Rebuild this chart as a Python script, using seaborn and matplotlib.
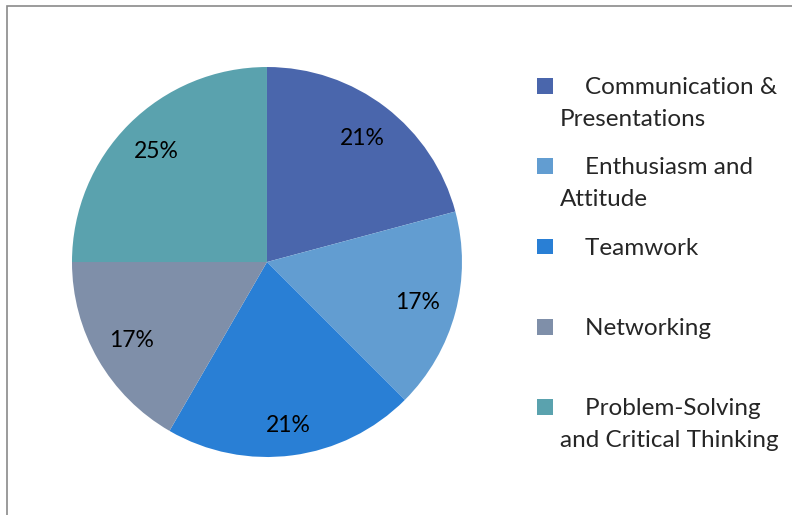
import matplotlib
matplotlib.use("Agg")
import matplotlib.pyplot as plt
import seaborn as sns
from matplotlib.patches import Patch, Rectangle
from matplotlib.legend_handler import HandlerPatch

# skills and counts (percent labels 21/17/21/17/25)
skills = ["Communication &\nPresentations", "Enthusiasm and\nAttitude", "Teamwork",
          "Networking", "Problem-Solving\nand Critical Thinking"]
counts = [5, 4, 5, 4, 6]
cores = ["#4A66AC", "#629DD1", "#297FD5", "#7F8FA9", "#5AA2AE"]

sns.set_theme(style="white")
plt.rcParams['font.family'] = ['Lato', 'DejaVu Sans']

tam = 16.5
tam_leg = 17.5
entrelinhas = 1.65

fig = plt.figure(figsize=(7.92, 5.15), dpi=100)
ax = fig.add_axes([0.0909, 0.1126, 0.4924, 0.7573])

fatias, textos, pcts = ax.pie(counts, colors=cores, startangle=90, counterclock=False,
                              autopct=lambda p: f"{p:.0f}%", pctdistance=0.8,
                              textprops={"fontsize": tam, "color": "black"},
                              wedgeprops={"linewidth": 0})
# o rotulo de baixo fica um pouco mais para fora no original
x, y = pcts[2].get_position()
pcts[2].set_position((x * 1.06, y * 1.06))
ax.set_xlim(-1, 1)
ax.set_ylim(-1, 1)
ax.set_aspect("equal")

# moldura cinza do grafico (cortada a direita e embaixo)
fig.patches.append(Rectangle((7 / 792, -0.1), 1.2, 1 - 6 / 515 + 0.1,
                             transform=fig.transFigure, fill=False,
                             edgecolor="#8a8a8a", linewidth=1.2))

# legenda: todos com duas linhas para manter o espaçamento igual
rotulos = []
for s in skills:
    linhas = s.split("\n")
    if len(linhas) == 1:
        linhas.append(" ")
    rotulos.append("    " + linhas[0] + "\n" + linhas[1])


# quadradinho alinhado com a primeira linha do texto
def quadrado(legend, orig_handle, xdescent, ydescent, width, height, fontsize):
    sobe = entrelinhas * 0.87 * fontsize / 2
    return Rectangle((-xdescent, -ydescent + sobe), width, height)


handles = [Patch(facecolor=c, edgecolor="none") for c in cores]
leg = fig.legend(handles, rotulos, loc="upper left", bbox_to_anchor=(0.651, 0.893),
                 frameon=False, fontsize=tam_leg, handlelength=0.62, handleheight=0.62,
                 handletextpad=0.29, labelspacing=1.12,
                 handler_map={Patch: HandlerPatch(patch_func=quadrado)})
for t in leg.get_texts():
    t.set_linespacing(entrelinhas)

fig.savefig("out.png", dpi=100)
